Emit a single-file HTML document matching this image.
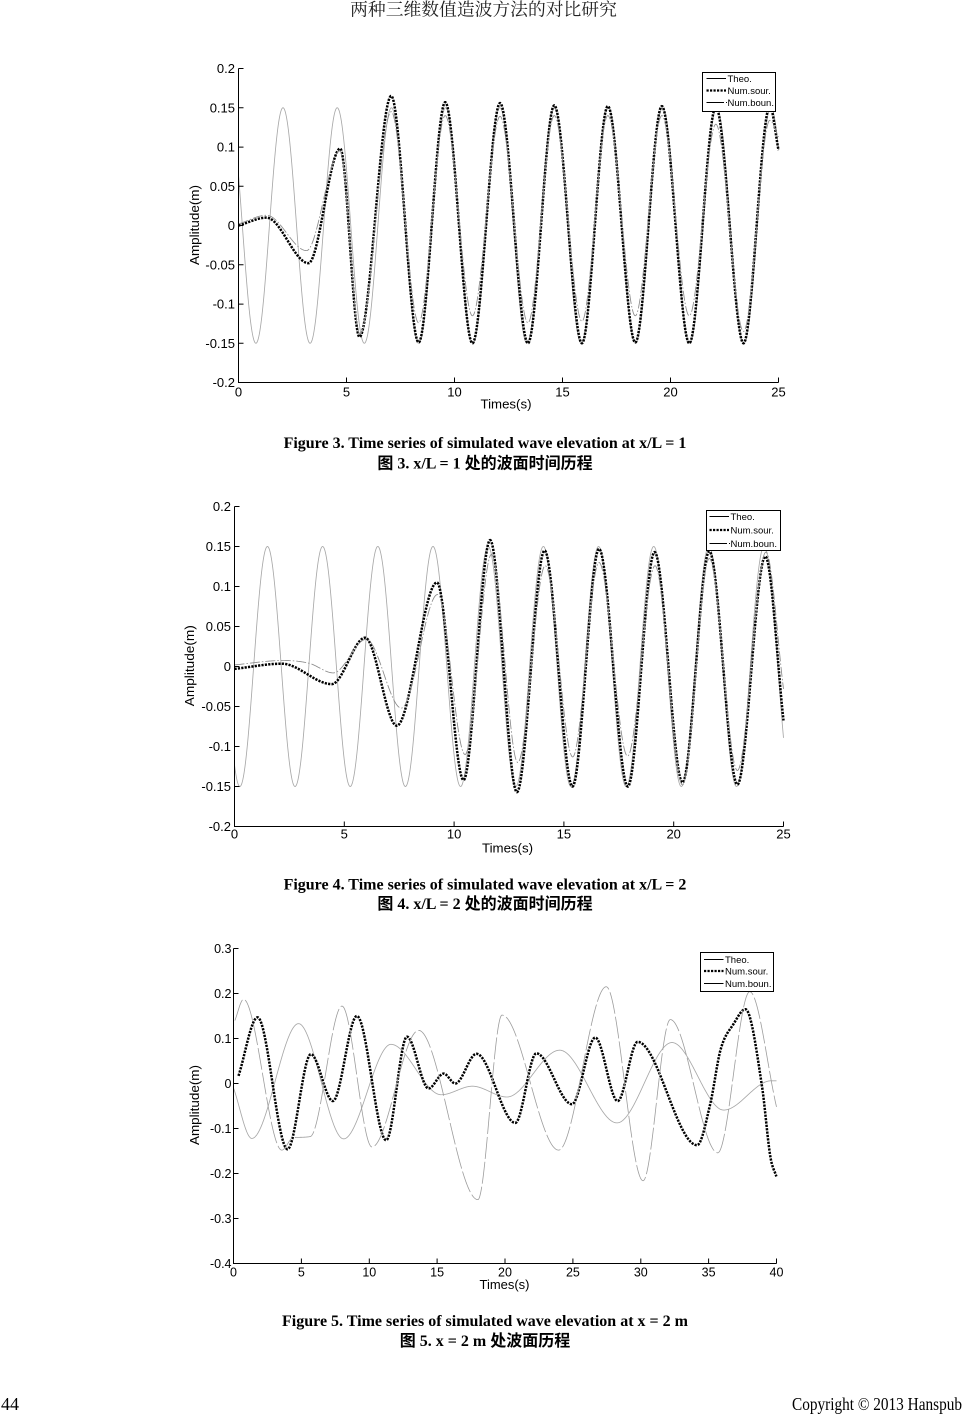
<!DOCTYPE html>
<html>
<head>
<meta charset="utf-8">
<style>
html,body{margin:0;padding:0;background:#fff;}
svg{display:block;}
.tk{font-family:"Liberation Sans",Arial,sans-serif;font-size:13px;fill:#000;}
.tk5{font-family:"Liberation Sans",Arial,sans-serif;font-size:12.5px;fill:#000;}
.lg{font-family:"Liberation Sans",Arial,sans-serif;font-size:9.5px;fill:#000;}
.cap{font-family:"Liberation Serif","Noto Sans CJK SC",serif;font-weight:bold;font-size:16px;fill:#000;}
.hd{font-family:"Liberation Serif","Noto Serif CJK SC",serif;font-size:17.8px;fill:#222;}
.ft{font-family:"Liberation Serif",serif;font-size:18px;fill:#000;}
.ax{fill:none;stroke:#000;stroke-width:1;}
.theo{fill:none;stroke:#a8a8a8;stroke-width:0.85;}
.boun{fill:none;stroke:#8a8a8a;stroke-width:0.85;stroke-dasharray:10 2 1.5 2;}
.sour{fill:none;stroke:#000;stroke-width:2.5;stroke-dasharray:2.2 1.2;}
</style>
</head>
<body>
<svg width="966" height="1414" viewBox="0 0 966 1414" xmlns="http://www.w3.org/2000/svg">
<rect width="966" height="1414" fill="#fff"/>

<!-- Header -->
<text class="hd" x="483.5" y="15.5" text-anchor="middle">两种三维数值造波方法的对比研究</text>

<!-- ================= FIGURE 3 ================= -->
<path id="f3t" class="theo" d=""/>
<path id="f3s" class="sour" d=""/>
<path id="f3b" class="boun" d=""/>
<path class="ax" d="M238.5 68.5V382.5H778.5"/>
<path class="ax" d="M238.5 68.5h5M238.5 107.8h5M238.5 147.1h5M238.5 186.3h5M238.5 225.5h5M238.5 264.8h5M238.5 304.1h5M238.5 343.3h5M238.5 382.5h5M238.5 382.5v-5M346.5 382.5v-5M454.5 382.5v-5M562.5 382.5v-5M670.5 382.5v-5M778.5 382.5v-5"/>
<g class="tk" text-anchor="end">
<text x="235" y="73">0.2</text>
<text x="235" y="112.3">0.15</text>
<text x="235" y="151.6">0.1</text>
<text x="235" y="190.8">0.05</text>
<text x="235" y="230">0</text>
<text x="235" y="269.3">-0.05</text>
<text x="235" y="308.6">-0.1</text>
<text x="235" y="347.8">-0.15</text>
<text x="235" y="387">-0.2</text>
</g>
<g class="tk" text-anchor="middle">
<text x="238.5" y="396.7">0</text>
<text x="346.5" y="396.7">5</text>
<text x="454.5" y="396.7">10</text>
<text x="562.5" y="396.7">15</text>
<text x="670.5" y="396.7">20</text>
<text x="778.5" y="396.7">25</text>
<text x="506" y="408.5" textLength="51" lengthAdjust="spacingAndGlyphs">Times(s)</text>
</g>
<text class="tk" text-anchor="middle" transform="translate(199.2 225) rotate(-90)" textLength="80" lengthAdjust="spacingAndGlyphs">Amplitude(m)</text>
<rect x="702.5" y="72.5" width="73" height="39" fill="#fff" stroke="#000" stroke-width="1"/>
<line x1="706.5" y1="78.5" x2="726" y2="78.5" stroke="#000" stroke-width="0.9"/>
<line x1="706.5" y1="90.5" x2="726" y2="90.5" stroke="#000" stroke-width="2.2" stroke-dasharray="2.2 1.3"/>
<line x1="706.5" y1="102.5" x2="724" y2="102.5" stroke="#000" stroke-width="0.9"/>
<rect x="726" y="102" width="1" height="1" fill="#000"/>
<text class="lg" x="727.5" y="81.8">Theo.</text>
<text class="lg" x="727.5" y="93.8">Num.sour.</text>
<text class="lg" x="727.5" y="105.8">Num.boun.</text>

<text class="cap" x="485" y="448" text-anchor="middle">Figure 3. Time series of simulated wave elevation at x/L = 1</text>
<text class="cap" x="485" y="468.5" text-anchor="middle">图 3. x/L = 1 处的波面时间历程</text>

<!-- ================= FIGURE 4 ================= -->
<path id="f4t" class="theo" d=""/>
<path id="f4s" class="sour" d=""/>
<path id="f4b" class="boun" d=""/>
<path class="ax" d="M234.5 506.5V826.5H783.5"/>
<path class="ax" d="M234.5 506.5h5M234.5 546.5h5M234.5 586.5h5M234.5 626.5h5M234.5 666.5h5M234.5 706.5h5M234.5 746.5h5M234.5 786.5h5M234.5 826.5h5M234.5 826.5v-5M344.3 826.5v-5M454.1 826.5v-5M563.9 826.5v-5M673.7 826.5v-5M783.5 826.5v-5"/>
<g class="tk" text-anchor="end">
<text x="231" y="511">0.2</text>
<text x="231" y="551">0.15</text>
<text x="231" y="591">0.1</text>
<text x="231" y="631">0.05</text>
<text x="231" y="671">0</text>
<text x="231" y="711">-0.05</text>
<text x="231" y="751">-0.1</text>
<text x="231" y="791">-0.15</text>
<text x="231" y="831">-0.2</text>
</g>
<g class="tk" text-anchor="middle">
<text x="234.5" y="838.5">0</text>
<text x="344.3" y="838.5">5</text>
<text x="454.1" y="838.5">10</text>
<text x="563.9" y="838.5">15</text>
<text x="673.7" y="838.5">20</text>
<text x="783.5" y="838.5">25</text>
<text x="507.5" y="852.5" textLength="51" lengthAdjust="spacingAndGlyphs">Times(s)</text>
</g>
<text class="tk" text-anchor="middle" transform="translate(194.2 665.7) rotate(-90)" textLength="81" lengthAdjust="spacingAndGlyphs">Amplitude(m)</text>
<rect x="706.5" y="510.5" width="74" height="40" fill="#fff" stroke="#000" stroke-width="1"/>
<line x1="709.5" y1="516.5" x2="729" y2="516.5" stroke="#000" stroke-width="0.9"/>
<line x1="709.5" y1="530" x2="729" y2="530" stroke="#000" stroke-width="2.2" stroke-dasharray="2.2 1.3"/>
<line x1="709.5" y1="543.5" x2="727" y2="543.5" stroke="#000" stroke-width="0.9"/>
<rect x="729" y="543" width="1" height="1" fill="#000"/>
<text class="lg" x="730.5" y="519.8">Theo.</text>
<text class="lg" x="730.5" y="533.3">Num.sour.</text>
<text class="lg" x="730.5" y="546.8">Num.boun.</text>

<text class="cap" x="485" y="889.5" text-anchor="middle">Figure 4. Time series of simulated wave elevation at x/L = 2</text>
<text class="cap" x="485" y="909" text-anchor="middle">图 4. x/L = 2 处的波面时间历程</text>

<!-- ================= FIGURE 5 ================= -->
<path id="f5t" class="theo" d=""/>
<path id="f5s" class="sour" d=""/>
<path id="f5b" class="boun" style="stroke:#9c9c9c;stroke-width:0.8;stroke-dasharray:22 3" d=""/>
<path class="ax" d="M233.5 948.5V1263.5H776.5"/>
<path class="ax" d="M233.5 948.5h5M233.5 993.5h5M233.5 1038.5h5M233.5 1083.5h5M233.5 1128.5h5M233.5 1173.5h5M233.5 1218.5h5M233.5 1263.5h5M233.5 1263.5v-5M301.4 1263.5v-5M369.3 1263.5v-5M437.1 1263.5v-5M505 1263.5v-5M572.9 1263.5v-5M640.8 1263.5v-5M708.6 1263.5v-5M776.5 1263.5v-5"/>
<g class="tk5" text-anchor="end">
<text x="231.5" y="953">0.3</text>
<text x="231.5" y="998">0.2</text>
<text x="231.5" y="1043">0.1</text>
<text x="231.5" y="1088">0</text>
<text x="231.5" y="1133">-0.1</text>
<text x="231.5" y="1178">-0.2</text>
<text x="231.5" y="1223">-0.3</text>
<text x="231.5" y="1268">-0.4</text>
</g>
<g class="tk5" text-anchor="middle">
<text x="233.5" y="1276.7">0</text>
<text x="301.4" y="1276.7">5</text>
<text x="369.3" y="1276.7">10</text>
<text x="437.1" y="1276.7">15</text>
<text x="505" y="1276.7">20</text>
<text x="572.9" y="1276.7">25</text>
<text x="640.8" y="1276.7">30</text>
<text x="708.6" y="1276.7">35</text>
<text x="776.5" y="1276.7">40</text>
<text x="504.5" y="1289" textLength="50" lengthAdjust="spacingAndGlyphs">Times(s)</text>
</g>
<text class="tk5" text-anchor="middle" transform="translate(199.2 1105) rotate(-90)" textLength="80" lengthAdjust="spacingAndGlyphs">Amplitude(m)</text>
<rect x="700.5" y="952.5" width="73" height="39" fill="#fff" stroke="#000" stroke-width="1"/>
<line x1="704" y1="959.5" x2="723.5" y2="959.5" stroke="#000" stroke-width="0.9"/>
<line x1="704" y1="971" x2="723.5" y2="971" stroke="#000" stroke-width="2.2" stroke-dasharray="2.2 1.3"/>
<line x1="704" y1="983.5" x2="723.5" y2="983.5" stroke="#000" stroke-width="0.9"/>
<text class="lg" x="725" y="962.8">Theo.</text>
<text class="lg" x="725" y="974.3">Num.sour.</text>
<text class="lg" x="725" y="986.8">Num.boun.</text>

<text class="cap" x="485" y="1326" text-anchor="middle">Figure 5. Time series of simulated wave elevation at x = 2 m</text>
<text class="cap" x="485" y="1346" text-anchor="middle">图 5. x = 2 m 处波面历程</text>

<!-- Footer -->
<text class="ft" x="1" y="1410">44</text>
<text class="ft" x="962" y="1410" text-anchor="end" textLength="170" lengthAdjust="spacingAndGlyphs">Copyright © 2013 Hanspub</text>
</svg>

<script>
(function(){
function mono(pts){
  var n=pts.length,x=[],y=[],d=[],m=new Array(n),i;
  for(i=0;i<n;i++){x.push(pts[i][0]);y.push(pts[i][1]);}
  for(i=0;i<n-1;i++) d.push((y[i+1]-y[i])/(x[i+1]-x[i]));
  m[0]=d[0]; m[n-1]=d[n-2];
  for(i=1;i<n-1;i++) m[i]=(d[i-1]*d[i]<=0)?0:(d[i-1]+d[i])/2;
  for(i=0;i<n-1;i++){
    if(d[i]===0){m[i]=0;m[i+1]=0;continue;}
    var a=m[i]/d[i],b=m[i+1]/d[i],s=a*a+b*b;
    if(s>9){var tt=3/Math.sqrt(s);m[i]=tt*a*d[i];m[i+1]=tt*b*d[i];}
  }
  return function(t){
    var k=0; while(k<n-2 && t>x[k+1]) k++;
    var h=x[k+1]-x[k],u=(t-x[k])/h,u2=u*u,u3=u2*u;
    return (2*u3-3*u2+1)*y[k]+(u3-2*u2+u)*h*m[k]+(-2*u3+3*u2)*y[k+1]+(u3-u2)*h*m[k+1];
  };
}
function path(f,t0,t1,ax){
  var s='',t,X,Y;
  for(t=t0;t<=t1+1e-9;t+=0.02){
    X=ax.x0+t*ax.sx; Y=ax.y0-f(t)*ax.sy;
    s+=(s?'L':'M')+X.toFixed(2)+' '+Y.toFixed(2);
  }
  return s;
}
function set(id,d){document.getElementById(id).setAttribute('d',d);}
var ax3={x0:238.5,sx:21.6,y0:225.5,sy:785};
var ax4={x0:234.5,sx:21.96,y0:666.5,sy:800};
var ax5={x0:233.5,sx:13.575,y0:1083.5,sy:450};
var P=2*Math.PI;

// Figure 3
set('f3t',path(function(t){return 0.15*Math.cos(P*(t-2.06)/2.51);},0,25,ax3));
set('f3s',path(mono([[0,0],[1.3,0.010],[3.24,-0.048],[4.71,0.098],[5.6,-0.142],[7.07,0.165],[8.34,-0.149],[9.57,0.157],[10.83,-0.15],[12.11,0.156],[13.4,-0.15],[14.62,0.153],[15.9,-0.15],[17.1,0.152],[18.37,-0.149],[19.6,0.152],[20.87,-0.15],[22.1,0.151],[23.38,-0.15],[24.6,0.152],[25,0.096]]),0,25,ax3));
set('f3b',path(mono([[0,0.002],[1.3,0.013],[3.15,-0.032],[4.7,0.095],[5.62,-0.138],[7.07,0.145],[8.34,-0.124],[9.57,0.14],[10.83,-0.115],[12.11,0.139],[13.4,-0.124],[14.62,0.14],[15.9,-0.122],[17.1,0.14],[18.37,-0.115],[19.6,0.14],[20.87,-0.115],[22.1,0.129],[23.38,-0.135],[24.6,0.134],[25,0.113]]),0,25,ax3));

// Figure 4
set('f4t',path(function(t){return 0.15*Math.cos(P*(t-1.5)/2.513);},0,25,ax4));
set('f4s',path(mono([[0,-0.003],[2.16,0.0035],[4.43,-0.022],[5.95,0.036],[7.39,-0.074],[9.22,0.105],[10.43,-0.142],[11.64,0.158],[12.86,-0.157],[14.12,0.145],[15.39,-0.15],[16.6,0.147],[17.91,-0.15],[19.13,0.143],[20.4,-0.145],[21.62,0.144],[22.9,-0.1475],[24.17,0.1375],[25,-0.0675]]),0,25,ax4));
set('f4b',path(mono([[0,0.002],[2.2,0.0075],[3.4,0.004],[4.5,-0.008],[6.0,0.034],[7.6,-0.052],[9.25,0.09],[10.5,-0.11],[11.7,0.14],[12.9,-0.12],[14.15,0.126],[15.4,-0.113],[16.6,0.13],[17.9,-0.112],[19.15,0.126],[20.4,-0.148],[21.62,0.135],[22.9,-0.13],[24.2,0.143],[25,-0.028]]),0,25,ax4));

// Figure 5
set('f5t',path(mono([[0,-0.01],[1.35,-0.122],[4.79,0.133],[8.11,-0.123],[11.6,0.087],[15.3,-0.025],[17.6,-0.006],[20.14,-0.03],[24.03,0.074],[28.25,-0.0875],[32.3,0.091],[36.11,-0.059],[39.6,0.006],[40,0.006]]),0,40,ax5));
set('f5s',path(mono([[0.37,0.017],[1.77,0.147],[3.98,-0.146],[5.70,0.065],[7.32,-0.039],[9.09,0.150],[11.25,-0.126],[12.78,0.104],[14.37,-0.011],[15.48,0.022],[16.34,0.0],[17.9,0.066],[20.76,-0.0875],[22.31,0.067],[24.93,-0.046],[26.65,0.102],[28.3,-0.039],[29.77,0.0925],[34.15,-0.137],[35.13,-0.044],[35.87,0.074],[36.85,0.133],[37.71,0.165],[38.94,-0.008],[39.55,-0.163],[40,-0.2075]]),0.37,40,ax5));
set('f5b',path(mono([[0.1,0.14],[0.74,0.187],[3.56,-0.148],[4.42,-0.12],[5.65,-0.118],[7.99,0.172],[10.2,-0.141],[13.64,0.118],[18.0,-0.258],[19.78,0.152],[23.95,-0.148],[27.46,0.215],[30.17,-0.216],[32.18,0.142],[35.67,-0.154],[38.03,0.204],[40,-0.052]]),0.1,40,ax5));
})();
</script>
</body>
</html>
